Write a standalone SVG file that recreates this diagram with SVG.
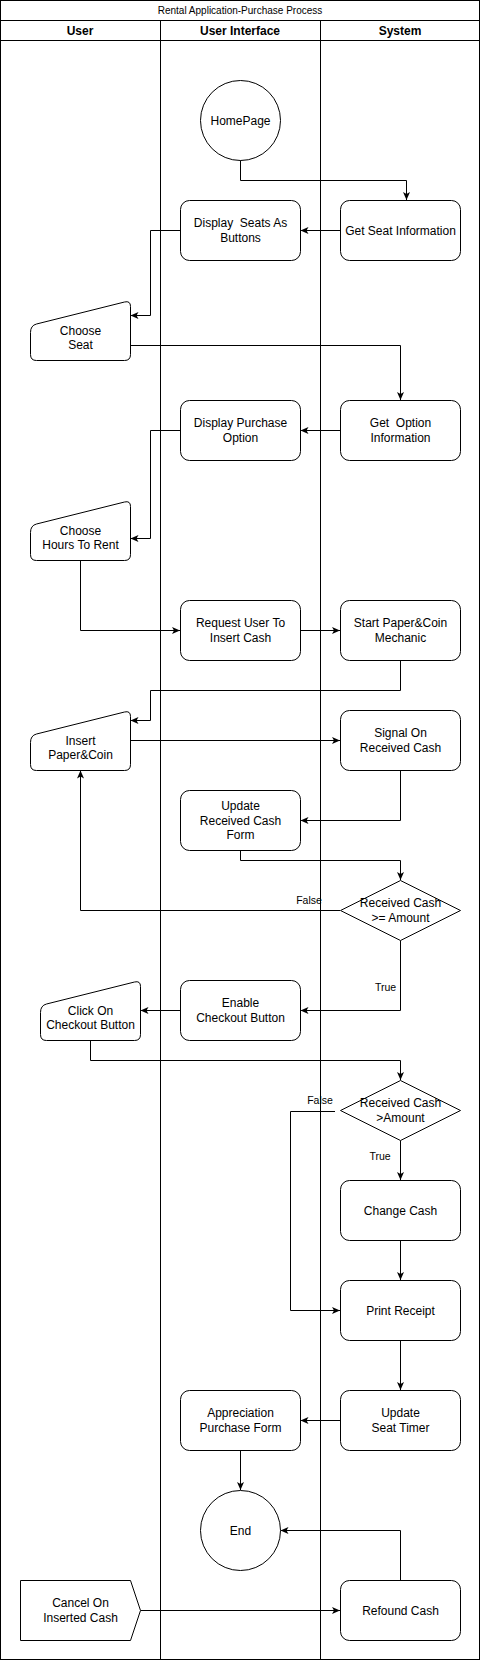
<svg xmlns="http://www.w3.org/2000/svg" width="481" height="1661" viewBox="0 0 481 1661">
<style>
.sh{fill:#fff;stroke:#000;stroke-width:1}
.ln{fill:none;stroke:#000;stroke-width:1}
.t{font-family:"Liberation Sans",Arial,sans-serif;font-size:12px;fill:#000;text-anchor:middle}
.h{font-family:"Liberation Sans",Arial,sans-serif;font-size:12px;font-weight:bold;fill:#000;text-anchor:middle}
.ti{font-family:"Liberation Sans",Arial,sans-serif;font-size:10px;fill:#000;text-anchor:middle}
.lb{font-family:"Liberation Sans",Arial,sans-serif;font-size:10.5px;fill:#000;text-anchor:middle}
.c{fill:none;stroke:#000;stroke-width:1;marker-end:url(#arr)}
</style>
<defs>
<marker id="arr" markerUnits="userSpaceOnUse" markerWidth="9" markerHeight="8" refX="8" refY="3.5" orient="auto">
<path d="M0,0 L8,3.5 L0,7 L2,3.5 Z" fill="#000"/>
</marker>
<path id="manual" d="M0,32 Q0,25 6,23.5 L94,1.5 Q100,0 100,6 L100,54 Q100,60 94,60 L6,60 Q0,60 0,54 Z"/>
</defs>
<rect width="481" height="1661" fill="#fff"/>
<g id="pool">
<rect class="ln" x="0.5" y="0.5" width="479" height="1659"/>
<line class="ln" x1="0" y1="20.5" x2="480" y2="20.5"/>
<line class="ln" x1="0" y1="40.5" x2="480" y2="40.5"/>
<line class="ln" x1="160.5" y1="20" x2="160.5" y2="1660"/>
<line class="ln" x1="320.5" y1="20" x2="320.5" y2="1660"/>
<text class="ti" x="240" y="13.5">Rental Application-Purchase Process</text>
<text class="h" x="80" y="34.5">User</text>
<text class="h" x="240" y="34.5">User Interface</text>
<text class="h" x="400" y="34.5">System</text>
</g>
<g id="connectors">
<path class="c" d="M240.5,160 V180.5 H406.5 V200"/>
<path class="c" d="M340,230.5 H300.5"/>
<path class="c" d="M180,230.5 H150.5 V315.5 H130.5"/>
<path class="c" d="M130.5,345.5 H400.5 V400"/>
<path class="c" d="M340,430.5 H300.5"/>
<path class="c" d="M180,430.5 H150.5 V538.5 H130.5"/>
<path class="c" d="M80.5,560.5 V630.5 H180"/>
<path class="c" d="M300.5,630.5 H340"/>
<path class="c" d="M400.5,660.5 V690.5 H150.5 V720.5 H130.5"/>
<path class="c" d="M130.5,740.5 H340"/>
<path class="c" d="M400.5,770.5 V820.5 H300.5"/>
<path class="c" d="M240.5,850.5 V860.5 H400.5 V880"/>
<path class="c" d="M340,910.5 H80.5 V770.5"/>
<path class="c" d="M400.5,940.5 V1010.5 H300.5"/>
<path class="c" d="M180,1010.5 H140.5"/>
<path class="c" d="M90.5,1040.5 V1060.5 H400.5 V1080"/>
<path class="c" d="M335,1111.5 H290.5 V1310.5 H340"/>
<path class="c" d="M400.5,1140.5 V1180"/>
<path class="c" d="M400.5,1240.5 V1280"/>
<path class="c" d="M400.5,1340.5 V1390"/>
<path class="c" d="M340,1420.5 H300.5"/>
<path class="c" d="M240.5,1450.5 V1490"/>
<path class="c" d="M400.5,1580 V1530.5 H280.5"/>
<path class="c" d="M140.5,1610.5 H340"/>
<text class="lb" x="309" y="904">False</text>
<text class="lb" x="385.5" y="990.5">True</text>
<text class="lb" x="320" y="1104">False</text>
<text class="lb" x="380" y="1160">True</text>
</g>
<g id="homepage"><circle class="sh" cx="240.5" cy="120.5" r="40"/><text class="t" x="240.5" y="124.5">HomePage</text></g>
<g id="getSeat"><rect class="sh" x="340.5" y="200.5" width="120" height="60" rx="9"/><text class="t" x="400.5" y="234.5">Get Seat Information</text></g>
<g id="displaySeats"><rect class="sh" x="180.5" y="200.5" width="120" height="60" rx="9"/><text class="t" x="240.5" xml:space="preserve"><tspan x="240.5" y="227">Display  Seats As</tspan><tspan x="240.5" y="241.5">Buttons</tspan></text></g>
<g id="chooseSeat"><use href="#manual" class="sh" x="30.5" y="300.5"/><text class="t"><tspan x="80.5" y="334.5">Choose</tspan><tspan x="80.5" y="349">Seat</tspan></text></g>
<g id="getOption"><rect class="sh" x="340.5" y="400.5" width="120" height="60" rx="9"/><text class="t" xml:space="preserve"><tspan x="400.5" y="427">Get  Option</tspan><tspan x="400.5" y="441.5">Information</tspan></text></g>
<g id="displayPurchase"><rect class="sh" x="180.5" y="400.5" width="120" height="60" rx="9"/><text class="t"><tspan x="240.5" y="427">Display Purchase</tspan><tspan x="240.5" y="441.5">Option</tspan></text></g>
<g id="chooseHours"><use href="#manual" class="sh" x="30.5" y="500.5"/><text class="t"><tspan x="80.5" y="534.5">Choose</tspan><tspan x="80.5" y="549">Hours To Rent</tspan></text></g>
<g id="requestCash"><rect class="sh" x="180.5" y="600.5" width="120" height="60" rx="9"/><text class="t"><tspan x="240.5" y="627">Request User To</tspan><tspan x="240.5" y="641.5">Insert Cash</tspan></text></g>
<g id="startMechanic"><rect class="sh" x="340.5" y="600.5" width="120" height="60" rx="9"/><text class="t"><tspan x="400.5" y="627">Start Paper&amp;Coin</tspan><tspan x="400.5" y="641.5">Mechanic</tspan></text></g>
<g id="insertCoin"><use href="#manual" class="sh" x="30.5" y="710.5"/><text class="t"><tspan x="80.5" y="744.5">Insert</tspan><tspan x="80.5" y="759">Paper&amp;Coin</tspan></text></g>
<g id="signalCash"><rect class="sh" x="340.5" y="710.5" width="120" height="60" rx="9"/><text class="t"><tspan x="400.5" y="737">Signal On</tspan><tspan x="400.5" y="751.5">Received Cash</tspan></text></g>
<g id="updateForm"><rect class="sh" x="180.5" y="790.5" width="120" height="60" rx="9"/><text class="t"><tspan x="240.5" y="810">Update</tspan><tspan x="240.5" y="824.5">Received Cash</tspan><tspan x="240.5" y="839">Form</tspan></text></g>
<g id="decision1"><polygon class="sh" points="340.5,910.5 400.5,880.5 460.5,910.5 400.5,940.5"/><text class="t"><tspan x="400.5" y="907">Received Cash</tspan><tspan x="400.5" y="921.5">&gt;= Amount</tspan></text></g>
<g id="enableCheckout"><rect class="sh" x="180.5" y="980.5" width="120" height="60" rx="9"/><text class="t"><tspan x="240.5" y="1007">Enable</tspan><tspan x="240.5" y="1021.5">Checkout Button</tspan></text></g>
<g id="clickCheckout"><use href="#manual" class="sh" x="40.5" y="980.5"/><text class="t"><tspan x="90.5" y="1014.5">Click On</tspan><tspan x="90.5" y="1029">Checkout Button</tspan></text></g>
<g id="decision2"><polygon class="sh" points="340.5,1110.5 400.5,1080.5 460.5,1110.5 400.5,1140.5"/><text class="t"><tspan x="400.5" y="1107">Received Cash</tspan><tspan x="400.5" y="1121.5">&gt;Amount</tspan></text></g>
<g id="changeCash"><rect class="sh" x="340.5" y="1180.5" width="120" height="60" rx="9"/><text class="t" x="400.5" y="1214.5">Change Cash</text></g>
<g id="printReceipt"><rect class="sh" x="340.5" y="1280.5" width="120" height="60" rx="9"/><text class="t" x="400.5" y="1314.5">Print Receipt</text></g>
<g id="updateTimer"><rect class="sh" x="340.5" y="1390.5" width="120" height="60" rx="9"/><text class="t"><tspan x="400.5" y="1417">Update</tspan><tspan x="400.5" y="1431.5">Seat Timer</tspan></text></g>
<g id="appreciation"><rect class="sh" x="180.5" y="1390.5" width="120" height="60" rx="9"/><text class="t"><tspan x="240.5" y="1417">Appreciation</tspan><tspan x="240.5" y="1431.5">Purchase Form</tspan></text></g>
<g id="end"><circle class="sh" cx="240.5" cy="1530.5" r="40"/><text class="t" x="240.5" y="1534.5">End</text></g>
<g id="refound"><rect class="sh" x="340.5" y="1580.5" width="120" height="60" rx="9"/><text class="t" x="400.5" y="1614.5">Refound Cash</text></g>
<g id="cancel"><polygon class="sh" points="20.5,1580.5 130.5,1580.5 140.5,1610.5 130.5,1640.5 20.5,1640.5"/><text class="t"><tspan x="80.5" y="1607">Cancel On</tspan><tspan x="80.5" y="1621.5">Inserted Cash</tspan></text></g>
</svg>
